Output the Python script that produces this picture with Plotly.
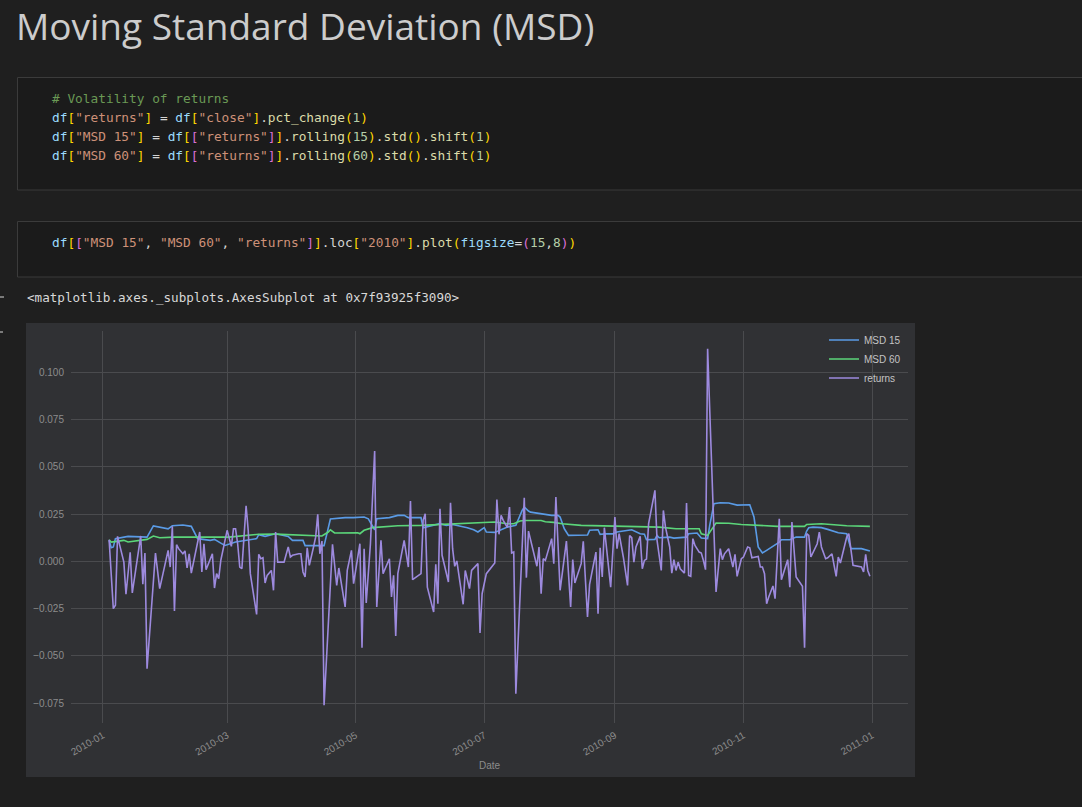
import plotly.graph_objects as go

# ------------------------------------------------------------------ data
ret_dates = [
    "2010-01-04", "2010-01-06", "2010-01-07", "2010-01-08", "2010-01-11", "2010-01-12", "2010-01-14", "2010-01-15",
    "2010-01-19", "2010-01-20", "2010-01-21", "2010-01-22", "2010-01-26", "2010-01-28", "2010-02-01", "2010-02-02",
    "2010-02-03", "2010-02-04", "2010-02-05", "2010-02-06", "2010-02-08", "2010-02-09", "2010-02-10", "2010-02-11",
    "2010-02-12", "2010-02-16", "2010-02-17", "2010-02-18", "2010-02-19", "2010-02-22", "2010-02-23", "2010-02-24",
    "2010-02-25", "2010-02-26", "2010-03-01", "2010-03-03", "2010-03-04", "2010-03-05", "2010-03-06", "2010-03-07",
    "2010-03-08", "2010-03-10", "2010-03-11", "2010-03-12", "2010-03-15", "2010-03-16", "2010-03-17", "2010-03-18",
    "2010-03-19", "2010-03-20", "2010-03-22", "2010-03-23", "2010-03-24", "2010-03-25", "2010-03-28", "2010-03-30",
    "2010-03-31", "2010-04-01", "2010-04-04", "2010-04-05", "2010-04-06", "2010-04-07", "2010-04-08", "2010-04-09",
    "2010-04-11", "2010-04-12", "2010-04-13", "2010-04-14", "2010-04-15", "2010-04-16", "2010-04-20", "2010-04-21",
    "2010-04-22", "2010-04-23", "2010-04-24", "2010-04-26", "2010-04-27", "2010-04-29", "2010-04-30", "2010-05-03",
    "2010-05-04", "2010-05-05", "2010-05-06", "2010-05-08", "2010-05-10", "2010-05-11", "2010-05-13", "2010-05-14",
    "2010-05-17", "2010-05-18", "2010-05-19", "2010-05-20", "2010-05-21", "2010-05-24", "2010-05-26", "2010-05-27",
    "2010-05-28", "2010-06-01", "2010-06-02", "2010-06-03", "2010-06-04", "2010-06-07", "2010-06-08", "2010-06-09",
    "2010-06-10", "2010-06-11", "2010-06-14", "2010-06-15", "2010-06-16", "2010-06-17", "2010-06-18", "2010-06-21",
    "2010-06-22", "2010-06-24", "2010-06-25", "2010-06-28", "2010-06-29", "2010-06-30", "2010-07-02", "2010-07-06",
    "2010-07-07", "2010-07-08", "2010-07-09", "2010-07-10", "2010-07-12", "2010-07-13", "2010-07-14", "2010-07-15",
    "2010-07-16", "2010-07-20", "2010-07-21", "2010-07-22", "2010-07-26", "2010-07-27", "2010-07-28", "2010-07-29",
    "2010-07-30", "2010-08-02", "2010-08-03", "2010-08-04", "2010-08-06", "2010-08-09", "2010-08-11", "2010-08-12",
    "2010-08-13", "2010-08-16", "2010-08-17", "2010-08-19", "2010-08-20", "2010-08-23", "2010-08-24", "2010-08-25",
    "2010-08-26", "2010-08-27", "2010-08-30", "2010-09-01", "2010-09-02", "2010-09-03", "2010-09-05", "2010-09-07",
    "2010-09-08", "2010-09-09", "2010-09-10", "2010-09-11", "2010-09-13", "2010-09-14", "2010-09-15", "2010-09-16",
    "2010-09-17", "2010-09-20", "2010-09-21", "2010-09-23", "2010-09-24", "2010-09-25", "2010-09-27", "2010-09-28",
    "2010-09-29", "2010-09-30", "2010-10-01", "2010-10-02", "2010-10-04", "2010-10-05", "2010-10-06", "2010-10-07",
    "2010-10-08", "2010-10-09", "2010-10-11", "2010-10-12", "2010-10-13", "2010-10-14", "2010-10-15", "2010-10-17",
    "2010-10-19", "2010-10-21", "2010-10-22", "2010-10-23", "2010-10-25", "2010-10-27", "2010-10-28", "2010-10-29",
    "2010-10-31", "2010-11-01", "2010-11-03", "2010-11-04", "2010-11-05", "2010-11-08", "2010-11-09", "2010-11-10",
    "2010-11-11", "2010-11-12", "2010-11-13", "2010-11-15", "2010-11-16", "2010-11-18", "2010-11-19", "2010-11-22",
    "2010-11-23", "2010-11-24", "2010-11-26", "2010-11-29", "2010-11-30", "2010-12-01", "2010-12-02", "2010-12-03",
    "2010-12-06", "2010-12-07", "2010-12-08", "2010-12-10", "2010-12-11", "2010-12-13", "2010-12-15", "2010-12-16",
    "2010-12-17", "2010-12-20", "2010-12-21", "2010-12-23", "2010-12-26", "2010-12-27", "2010-12-28", "2010-12-29",
    "2010-12-30", "2010-12-31",
]
ret_values = [
    0.0114, -0.0250, -0.0232, 0.0132, -0.0004, -0.0174, 0.0048, -0.0167,
    0.0134, -0.0121, 0.0044, -0.0567, 0.0044, -0.0144, 0.0058, -0.0030,
    0.0185, -0.0262, 0.0088, 0.0067, 0.0040, 0.0055, -0.0035, 0.0040,
    -0.0062, 0.0155, -0.0056, 0.0093, -0.0044, 0.0040, -0.0141, -0.0065,
    -0.0092, 0.0005, 0.0164, 0.0079, 0.0172, 0.0172, 0.0093, -0.0030,
    -0.0039, 0.0294, 0.0164, -0.0065, -0.0280, 0.0037, 0.0014, 0.0019,
    -0.0114, -0.0074, -0.0048, -0.0153, 0.0155, -0.0004, -0.0004, 0.0076,
    0.0023, 0.0032, 0.0040, 0.0040, -0.0056, -0.0083, 0.0072, -0.0021,
    0.0076, 0.0128, 0.0248, 0.0040, 0.0107, -0.0760, 0.0090, -0.0030,
    -0.0127, -0.0035, -0.0100, -0.0241, -0.0048, 0.0058, -0.0118, 0.0093,
    -0.0456, 0.0067, -0.0220, 0.0093, 0.0583, -0.0241, 0.0111, -0.0065,
    0.0014, -0.0188, -0.0074, -0.0394, -0.0065, 0.0111, -0.0030, 0.0319,
    -0.0097, -0.0065, 0.0217, 0.0252, -0.0136, -0.0268, -0.0016, -0.0224,
    0.0278, 0.0032, -0.0109, 0.0310, 0.0067, -0.0026, 0.0002, -0.0227,
    -0.0048, -0.0144, -0.0048, -0.0012, -0.0378, -0.0171, -0.0065, -0.0009,
    0.0326, 0.0143, 0.0243, 0.0217, 0.0178, 0.0287, 0.0044, 0.0049,
    -0.0699, 0.0336, -0.0086, 0.0160, -0.0026, 0.0076, -0.0171, 0.0014,
    0.0005, 0.0120, -0.0012, 0.0340, -0.0153, 0.0107, -0.0241, 0.0009,
    -0.0114, -0.0012, 0.0106, -0.0294, -0.0121, 0.0049, -0.0276, 0.0072,
    -0.0083, 0.0178, -0.0136, 0.0234, 0.0067, 0.0146, 0.0023, -0.0127,
    0.0137, 0.0125, -0.0004, 0.0076, 0.0132, -0.0039, 0.0005, 0.0012,
    0.0199, 0.0375, 0.0111, -0.0048, 0.0269, 0.0181, 0.0076, -0.0062,
    0.0009, -0.0048, -0.0004, -0.0039, -0.0062, 0.0308, -0.0074, -0.0079,
    0.0120, 0.0084, 0.0049, 0.0044, 0.0005, -0.0044, 0.1123, 0.0428,
    -0.0162, 0.0067, 0.0009, 0.0040, 0.0067, -0.0030, 0.0037, -0.0079,
    0.0014, 0.0023, 0.0076, 0.0072, 0.0019, 0.0026, -0.0030, -0.0030,
    -0.0065, -0.0224, -0.0188, -0.0130, -0.0197, 0.0225, -0.0097, 0.0009,
    -0.0136, 0.0208, -0.0083, -0.0132, -0.0456, 0.0146, 0.0137, 0.0023,
    0.0093, 0.0155, 0.0076, 0.0014, 0.0019, 0.0040, -0.0079, 0.0023,
    -0.0009, 0.0128, 0.0146, -0.0021, -0.0026, -0.0030, -0.0056, 0.0037,
    -0.0048, -0.0079,
]

msd15_dates = [
    "2010-01-04", "2010-01-05", "2010-01-06", "2010-01-07", "2010-01-13", "2010-01-22", "2010-01-25", "2010-02-01",
    "2010-02-03", "2010-02-08", "2010-02-12", "2010-02-15", "2010-02-21", "2010-02-23", "2010-02-27", "2010-02-28",
    "2010-03-05", "2010-03-10", "2010-03-15", "2010-03-16", "2010-03-19", "2010-03-24", "2010-03-30", "2010-04-01",
    "2010-04-06", "2010-04-07", "2010-04-16", "2010-04-19", "2010-04-26", "2010-04-30", "2010-05-05", "2010-05-07",
    "2010-05-09", "2010-05-10", "2010-05-11", "2010-05-17", "2010-05-21", "2010-05-24", "2010-05-26", "2010-06-01",
    "2010-06-02", "2010-06-07", "2010-06-10", "2010-06-13", "2010-06-16", "2010-06-23", "2010-06-26", "2010-06-28",
    "2010-06-30", "2010-07-01", "2010-07-02", "2010-07-06", "2010-07-12", "2010-07-16", "2010-07-19", "2010-07-20",
    "2010-07-22", "2010-07-23", "2010-08-02", "2010-08-05", "2010-08-06", "2010-08-08", "2010-08-10", "2010-08-12",
    "2010-08-19", "2010-08-20", "2010-08-24", "2010-08-25", "2010-08-28", "2010-08-31", "2010-09-02", "2010-09-05",
    "2010-09-09", "2010-09-13", "2010-09-15", "2010-09-16", "2010-09-20", "2010-09-21", "2010-09-22", "2010-09-27",
    "2010-09-29", "2010-10-05", "2010-10-06", "2010-10-10", "2010-10-12", "2010-10-15", "2010-10-16", "2010-10-18",
    "2010-10-21", "2010-10-25", "2010-10-29", "2010-11-04", "2010-11-06", "2010-11-08", "2010-11-10", "2010-11-12",
    "2010-11-15", "2010-11-18", "2010-11-19", "2010-11-23", "2010-11-26", "2010-11-30", "2010-12-01", "2010-12-02",
    "2010-12-04", "2010-12-08", "2010-12-11", "2010-12-14", "2010-12-16", "2010-12-20", "2010-12-22", "2010-12-27",
    "2010-12-29", "2010-12-31",
]
msd15_values = [
    0.0111, 0.0072, 0.0076, 0.0120, 0.0132, 0.0128, 0.0187, 0.0172,
    0.0188, 0.0192, 0.0185, 0.0120, 0.0111, 0.0116, 0.0090, 0.0084,
    0.0102, 0.0111, 0.0120, 0.0141, 0.0132, 0.0146, 0.0132, 0.0111,
    0.0111, 0.0083, 0.0083, 0.0224, 0.0231, 0.0231, 0.0234, 0.0225,
    0.0185, 0.0167, 0.0225, 0.0231, 0.0243, 0.0243, 0.0231, 0.0231,
    0.0178, 0.0190, 0.0199, 0.0190, 0.0195, 0.0178, 0.0167, 0.0155,
    0.0172, 0.0178, 0.0155, 0.0153, 0.0181, 0.0190, 0.0269, 0.0287,
    0.0266, 0.0260, 0.0243, 0.0243, 0.0234, 0.0172, 0.0137, 0.0137,
    0.0139, 0.0164, 0.0167, 0.0143, 0.0146, 0.0145, 0.0155, 0.0160,
    0.0167, 0.0146, 0.0143, 0.0114, 0.0116, 0.0137, 0.0125, 0.0128,
    0.0123, 0.0128, 0.0146, 0.0150, 0.0123, 0.0120, 0.0190, 0.0304,
    0.0310, 0.0308, 0.0297, 0.0299, 0.0234, 0.0076, 0.0044, 0.0058,
    0.0079, 0.0102, 0.0114, 0.0114, 0.0128, 0.0128, 0.0160, 0.0178,
    0.0181, 0.0178, 0.0169, 0.0160, 0.0151, 0.0146, 0.0067, 0.0067,
    0.0062, 0.0055,
]

msd60_dates = [
    "2010-01-04", "2010-01-05", "2010-01-11", "2010-01-13", "2010-01-22", "2010-01-25", "2010-01-28", "2010-02-04",
    "2010-03-02", "2010-03-10", "2010-03-16", "2010-03-24", "2010-04-06", "2010-04-15", "2010-04-18", "2010-04-19",
    "2010-04-21", "2010-05-02", "2010-05-03", "2010-05-05", "2010-05-09", "2010-05-21", "2010-06-01", "2010-06-10",
    "2010-06-20", "2010-06-30", "2010-07-06", "2010-07-12", "2010-07-15", "2010-07-18", "2010-07-20", "2010-07-28",
    "2010-07-30", "2010-08-03", "2010-08-07", "2010-08-16", "2010-08-22", "2010-08-31", "2010-09-09", "2010-09-22",
    "2010-09-30", "2010-10-11", "2010-10-12", "2010-10-15", "2010-10-19", "2010-10-25", "2010-10-31", "2010-11-11",
    "2010-11-17", "2010-11-30", "2010-12-01", "2010-12-08", "2010-12-16", "2010-12-20", "2010-12-31",
]
msd60_values = [
    0.0114, 0.0102, 0.0111, 0.0102, 0.0116, 0.0134, 0.0125, 0.0128,
    0.0128, 0.0136, 0.0143, 0.0144, 0.0137, 0.0134, 0.0155, 0.0167,
    0.0150, 0.0151, 0.0146, 0.0164, 0.0178, 0.0188, 0.0190, 0.0195,
    0.0199, 0.0204, 0.0208, 0.0199, 0.0199, 0.0213, 0.0216, 0.0216,
    0.0209, 0.0206, 0.0199, 0.0190, 0.0188, 0.0186, 0.0185, 0.0181,
    0.0172, 0.0172, 0.0146, 0.0137, 0.0202, 0.0201, 0.0195, 0.0188,
    0.0185, 0.0185, 0.0195, 0.0199, 0.0192, 0.0188, 0.0185,
]

series_names = ["MSD 15", "MSD 60", "returns"]
y_ticks = [-0.075, -0.050, -0.025, 0.000, 0.025, 0.050, 0.075, 0.100]
x_ticks = ["2010-01-01", "2010-03-01", "2010-05-01", "2010-07-01",
           "2010-09-01", "2010-11-01", "2011-01-01"]
x_tick_labels = ["2010-01", "2010-03", "2010-05", "2010-07",
                 "2010-09", "2010-11", "2011-01"]
x_title = "Date"
heading = "Moving Standard Deviation (MSD)"
output_text = "<matplotlib.axes._subplots.AxesSubplot at 0x7f93925f3090>"

# ------------------------------------------------------------------ style
W, H = 1082, 807
PL, PR, PT, PB = 71, 908, 331, 723   # plot area in pixels


def fx(px):
    return (px - PL) / (PR - PL)


def fy(py):
    return (PB - py) / (PB - PT)


PAGE_BG = "#1f1f1f"
CELL_BG = "#1b1b1b"
CELL_BORDER = "#3b3b3b"
PANEL_BG = "#303134"
GRID = "#4a4b4e"
TICK = "#8c8c8c"
LINE_COLORS = ["#5a9be6", "#5bd67a", "#9d8ade"]

C_VAR = "#9cdcfe"
C_B1 = "#ffd700"
C_B2 = "#da70d6"
C_STR = "#ce9178"
C_OP = "#d4d4d4"
C_FN = "#dcdcaa"
C_NUM = "#b5cea8"
C_COM = "#6a9955"

code_lines = [
    [("# Volatility of returns", C_COM)],
    [("df", C_VAR), ("[", C_B1), ('"returns"', C_STR), ("]", C_B1), (" = ", C_OP),
     ("df", C_VAR), ("[", C_B1), ('"close"', C_STR), ("]", C_B1), (".", C_OP),
     ("pct_change", C_FN), ("(", C_B1), ("1", C_NUM), (")", C_B1)],
    [("df", C_VAR), ("[", C_B1), ('"MSD 15"', C_STR), ("]", C_B1), (" = ", C_OP),
     ("df", C_VAR), ("[", C_B1), ("[", C_B2), ('"returns"', C_STR), ("]", C_B2), ("]", C_B1),
     (".", C_OP), ("rolling", C_FN), ("(", C_B1), ("15", C_NUM), (")", C_B1),
     (".", C_OP), ("std", C_FN), ("()", C_B1), (".", C_OP), ("shift", C_FN),
     ("(", C_B1), ("1", C_NUM), (")", C_B1)],
    [("df", C_VAR), ("[", C_B1), ('"MSD 60"', C_STR), ("]", C_B1), (" = ", C_OP),
     ("df", C_VAR), ("[", C_B1), ("[", C_B2), ('"returns"', C_STR), ("]", C_B2), ("]", C_B1),
     (".", C_OP), ("rolling", C_FN), ("(", C_B1), ("60", C_NUM), (")", C_B1),
     (".", C_OP), ("std", C_FN), ("()", C_B1), (".", C_OP), ("shift", C_FN),
     ("(", C_B1), ("1", C_NUM), (")", C_B1)],
]
code_line_y = [98.5, 117.5, 136.5, 155.5]

cell2_line = [("df", C_VAR), ("[", C_B1), ("[", C_B2), ('"MSD 15"', C_STR), (", ", C_OP),
              ('"MSD 60"', C_STR), (", ", C_OP), ('"returns"', C_STR), ("]", C_B2), ("]", C_B1),
              (".", C_OP), ("loc", C_OP), ("[", C_B1), ('"2010"', C_STR), ("]", C_B1),
              (".", C_OP), ("plot", C_FN), ("(", C_B1), ("figsize", C_VAR), ("=", C_OP),
              ("(", C_B2), ("15", C_NUM), (",", C_OP), ("8", C_NUM), (")", C_B2), (")", C_B1)]


def esc(t):
    return t.replace("&", "&amp;").replace("<", "&lt;").replace(">", "&gt;").replace(" ", "\u00a0")


def to_html(tokens):
    return "".join(f'<span style="color:{c}">{esc(t)}</span>' for t, c in tokens)


MONO = "DejaVu Sans Mono"
SANS = "Liberation Sans"

# ------------------------------------------------------------------ figure
fig = go.Figure()
for name, xs, ys, col in zip(series_names,
                             [msd15_dates, msd60_dates, ret_dates],
                             [msd15_values, msd60_values, ret_values],
                             LINE_COLORS):
    fig.add_trace(go.Scatter(x=xs, y=ys, mode="lines", name=name,
                             line=dict(color=col, width=1.6)))

shapes = [
    # matplotlib figure panel
    dict(type="rect", xref="paper", yref="paper", layer="below",
         x0=fx(26), x1=fx(915), y0=fy(777), y1=fy(323),
         fillcolor=PANEL_BG, line=dict(width=0)),
    # code cell 1
    dict(type="rect", xref="paper", yref="paper", layer="below",
         x0=fx(17.5), x1=fx(1100), y0=fy(190), y1=fy(77.5),
         fillcolor=CELL_BG, line=dict(color=CELL_BORDER, width=1)),
    # code cell 2
    dict(type="rect", xref="paper", yref="paper", layer="below",
         x0=fx(17.5), x1=fx(1100), y0=fy(277), y1=fy(221.5),
         fillcolor=CELL_BG, line=dict(color=CELL_BORDER, width=1)),
    # small collapse markers at the left edge
    dict(type="line", xref="paper", yref="paper", x0=fx(0), x1=fx(4),
         y0=fy(297), y1=fy(297), line=dict(color="#9a9a9a", width=1.5)),
    dict(type="line", xref="paper", yref="paper", x0=fx(0), x1=fx(3),
         y0=fy(332), y1=fy(332), line=dict(color="#9a9a9a", width=1.5)),
]

annotations = [
    dict(text=heading, xref="paper", yref="paper", x=fx(16), y=fy(25.5),
         xanchor="left", yanchor="middle", showarrow=False,
         borderpad=0, borderwidth=0,
         font=dict(family="Open Sans", size=37, color="#cccccc")),
]
for tokens, yy in zip(code_lines, code_line_y):
    annotations.append(dict(text=to_html(tokens), xref="paper", yref="paper",
                            x=fx(51.5), y=fy(yy), xanchor="left", yanchor="middle",
                            showarrow=False, borderpad=0, borderwidth=0,
                            font=dict(family=MONO, size=12.8, color=C_OP)))
annotations.append(dict(text=to_html(cell2_line), xref="paper", yref="paper",
                        x=fx(51.5), y=fy(242.5), xanchor="left", yanchor="middle",
                        showarrow=False, borderpad=0, borderwidth=0,
                        font=dict(family=MONO, size=12.8, color=C_OP)))
annotations.append(dict(text=esc(output_text), xref="paper", yref="paper",
                        x=fx(26.5), y=fy(297), xanchor="left", yanchor="middle",
                        showarrow=False, borderpad=0, borderwidth=0,
                        font=dict(family=MONO, size=12.6, color="#d8d8d8")))
# x-axis label, placed where matplotlib puts it
annotations.append(dict(text=x_title, xref="paper", yref="paper",
                        x=0.5, y=fy(765), xanchor="center", yanchor="middle",
                        showarrow=False, borderpad=0, borderwidth=0,
                        font=dict(family=SANS, size=10, color=TICK)))

tick_font = dict(family=SANS, size=10, color=TICK)
fig.update_layout(
    width=W, height=H,
    margin=dict(l=PL, r=W - PR, t=PT, b=H - PB, pad=0),
    paper_bgcolor=PAGE_BG,
    plot_bgcolor="rgba(0,0,0,0)",
    shapes=shapes,
    annotations=annotations,
    showlegend=True,
    legend=dict(x=fx(824), y=fy(359), xanchor="left", yanchor="middle",
                bgcolor="rgba(0,0,0,0)", borderwidth=0,
                font=dict(family=SANS, size=10, color="#c4c4c4")),
    xaxis=dict(type="date", range=["2009-12-16 22:00", "2011-01-18 02:00"],
               tickvals=x_ticks, ticktext=x_tick_labels, tickangle=-30,
               showgrid=True, gridcolor=GRID, gridwidth=1, zeroline=False,
               showline=False, ticks="outside", ticklen=2,
               tickcolor="rgba(0,0,0,0)", tickfont=tick_font, automargin=False),
    yaxis=dict(range=[-0.0854, 0.1217], tickvals=y_ticks, tickformat=".3f",
               showgrid=True, gridcolor=GRID, gridwidth=1, zeroline=False,
               showline=False, ticks="outside", ticklen=4,
               tickcolor="rgba(0,0,0,0)", tickfont=tick_font, automargin=False),
)

fig.write_html(
    "out.html", include_plotlyjs=True, config={"displayModeBar": False},
    post_script="document.body.style.margin='0';document.body.style.overflow='hidden';"
                "document.body.style.background='" + PAGE_BG + "';",
)
